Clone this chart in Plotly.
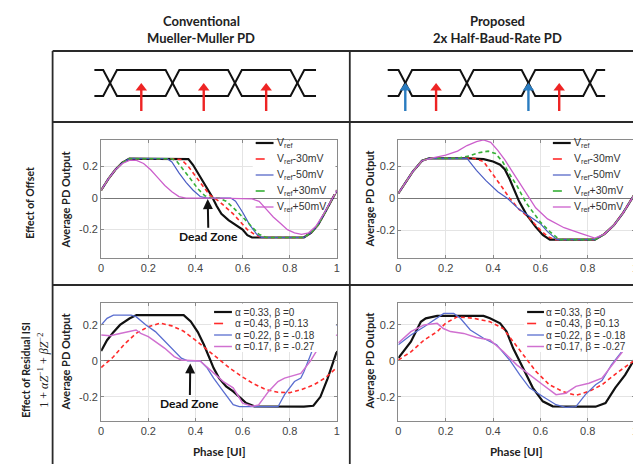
import plotly.graph_objects as go

# ================= DATA =================
phase_ticks = [0, 0.2, 0.4, 0.6, 0.8, 1]
phase_tick_text = ["0", "0.2", "0.4", "0.6", "0.8", "1"]
pd_ticks = [-0.2, 0, 0.2]
pd_tick_text = ["-0.2", "0", "0.2"]

col_headers_conv = ["Conventional", "Mueller-Muller PD"]
col_headers_prop = ["Proposed", "2x Half-Baud-Rate PD"]
row_label_offset = "Effect of Offset"
row_label_isi = "Effect of Residual ISI"
row_label_isi_eq = "1 + <i>αZ</i><sup>−1</sup> + <i>βZ</i><sup>−2</sup>"
y_title = "Average PD Output"
x_title = "Phase [UI]"
dead_zone_text = "Dead Zone"

offset_names = ["V<sub>ref</sub>", "V<sub>ref</sub>-30mV", "V<sub>ref</sub>-50mV",
                "V<sub>ref</sub>+30mV", "V<sub>ref</sub>+50mV"]
isi_names = ["α =0.33, β =0", "α =0.43, β =0.13", "α =0.22, β = -0.18", "α =0.17, β = -0.27"]

# eye diagrams (in UI)
eye_conv_cross = [0, 1, 2, 3]
eye_conv_extent = [-0.254, 3.30]
eye_conv_red = [0.5, 1.5, 2.5]
eye_prop_cross = [0, 1, 2, 3]
eye_prop_extent = [-0.29, 3.25]
eye_prop_blue = [0, 2]
eye_prop_red = [0.5, 2.5]

# --- Conventional, effect of offset ---
co_vref_x = [0, 0.03, 0.06, 0.09, 0.12, 0.2, 0.3, 0.37, 0.39, 0.41, 0.43, 0.45, 0.47, 0.49, 0.51, 0.54, 0.57, 0.6, 0.62, 0.64, 0.7, 0.8, 0.86, 0.89, 0.92, 0.95, 0.98, 1.0]
co_vref_y = [0.05, 0.12, 0.18, 0.225, 0.25, 0.25, 0.25, 0.248, 0.21, 0.16, 0.11, 0.06, 0.01, -0.05, -0.1, -0.14, -0.17, -0.2, -0.235, -0.25, -0.25, -0.25, -0.25, -0.22, -0.17, -0.09, 0.0, 0.05]
co_m30_x = [0, 0.03, 0.06, 0.09, 0.12, 0.2, 0.3, 0.34, 0.37, 0.4, 0.43, 0.46, 0.48, 0.5, 0.53, 0.56, 0.59, 0.62, 0.65, 0.68, 0.75, 0.86, 0.89, 0.92, 0.95, 0.98, 1.0]
co_m30_y = [0.05, 0.12, 0.18, 0.225, 0.25, 0.25, 0.25, 0.245, 0.2, 0.14, 0.08, 0.02, 0.0, -0.02, -0.06, -0.1, -0.15, -0.2, -0.23, -0.25, -0.25, -0.25, -0.22, -0.17, -0.09, 0.0, 0.05]
co_m50_x = [0, 0.03, 0.06, 0.09, 0.12, 0.2, 0.28, 0.3, 0.33, 0.36, 0.39, 0.42, 0.45, 0.5, 0.55, 0.57, 0.6, 0.63, 0.66, 0.68, 0.75, 0.86, 0.89, 0.92, 0.95, 0.98, 1.0]
co_m50_y = [0.05, 0.12, 0.18, 0.225, 0.25, 0.25, 0.25, 0.23, 0.16, 0.1, 0.05, 0.01, 0.0, 0.0, 0.0, -0.02, -0.09, -0.17, -0.23, -0.25, -0.25, -0.25, -0.22, -0.17, -0.09, 0.0, 0.05]
co_p30_x = [0, 0.03, 0.06, 0.09, 0.12, 0.2, 0.3, 0.32, 0.35, 0.38, 0.41, 0.44, 0.47, 0.5, 0.53, 0.56, 0.6, 0.64, 0.67, 0.7, 0.75, 0.86, 0.89, 0.92, 0.95, 0.98, 1.0]
co_p30_y = [0.05, 0.12, 0.18, 0.225, 0.25, 0.25, 0.25, 0.235, 0.18, 0.12, 0.06, 0.015, 0.0, 0.0, -0.02, -0.06, -0.12, -0.18, -0.23, -0.25, -0.25, -0.25, -0.22, -0.17, -0.09, 0.0, 0.05]
co_p50_x = [0, 0.03, 0.06, 0.09, 0.12, 0.15, 0.18, 0.21, 0.24, 0.27, 0.3, 0.33, 0.36, 0.5, 0.64, 0.67, 0.7, 0.73, 0.76, 0.79, 0.82, 0.85, 0.88, 0.91, 0.94, 0.97, 1.0]
co_p50_y = [0.05, 0.12, 0.18, 0.22, 0.24, 0.24, 0.22, 0.18, 0.13, 0.08, 0.04, 0.01, 0.0, 0.0, -0.005, -0.02, -0.07, -0.12, -0.16, -0.2, -0.22, -0.23, -0.22, -0.18, -0.11, -0.03, 0.05]

# --- Proposed, effect of offset ---
po_vref_x = [0, 0.03, 0.06, 0.1, 0.13, 0.2, 0.3, 0.36, 0.4, 0.43, 0.45, 0.47, 0.49, 0.51, 0.54, 0.58, 0.61, 0.64, 0.7, 0.83, 0.87, 0.91, 0.95, 1.0]
po_vref_y = [0.03, 0.1, 0.165, 0.235, 0.25, 0.25, 0.25, 0.245, 0.23, 0.21, 0.18, 0.12, 0.05, -0.02, -0.1, -0.18, -0.23, -0.26, -0.26, -0.26, -0.225, -0.17, -0.09, 0.03]
po_m30_x = [0, 0.03, 0.06, 0.1, 0.13, 0.2, 0.32, 0.36, 0.4, 0.44, 0.47, 0.51, 0.55, 0.6, 0.63, 0.66, 0.83, 0.87, 0.91, 0.95, 1.0]
po_m30_y = [0.03, 0.1, 0.165, 0.235, 0.25, 0.25, 0.25, 0.23, 0.15, 0.065, 0.0, -0.07, -0.12, -0.2, -0.24, -0.26, -0.26, -0.225, -0.17, -0.09, 0.03]
po_m50_x = [0, 0.03, 0.06, 0.1, 0.13, 0.2, 0.29, 0.33, 0.37, 0.42, 0.46, 0.51, 0.56, 0.6, 0.63, 0.67, 0.83, 0.87, 0.91, 0.95, 1.0]
po_m50_y = [0.03, 0.1, 0.165, 0.235, 0.25, 0.25, 0.25, 0.175, 0.11, 0.04, 0.0, -0.07, -0.12, -0.16, -0.21, -0.26, -0.26, -0.225, -0.17, -0.09, 0.03]
po_p30_x = [0, 0.03, 0.06, 0.1, 0.13, 0.2, 0.25, 0.3, 0.34, 0.38, 0.41, 0.44, 0.47, 0.5, 0.54, 0.6, 0.64, 0.68, 0.83, 0.87, 0.91, 0.95, 1.0]
po_p30_y = [0.03, 0.1, 0.165, 0.235, 0.25, 0.25, 0.25, 0.265, 0.285, 0.295, 0.28, 0.23, 0.15, 0.08, -0.03, -0.15, -0.21, -0.26, -0.26, -0.225, -0.17, -0.09, 0.03]
po_p50_x = [0, 0.03, 0.06, 0.1, 0.15, 0.2, 0.25, 0.29, 0.33, 0.36, 0.39, 0.42, 0.45, 0.48, 0.51, 0.54, 0.58, 0.63, 0.7, 0.77, 0.83, 0.87, 0.91, 0.95, 1.0]
po_p50_y = [0.03, 0.1, 0.165, 0.235, 0.255, 0.27, 0.295, 0.33, 0.355, 0.365, 0.35, 0.3, 0.24, 0.17, 0.1, 0.03, -0.06, -0.13, -0.185, -0.22, -0.25, -0.225, -0.17, -0.09, 0.03]

# --- Conventional, effect of residual ISI ---
ci_a_x = [0, 0.025, 0.052, 0.08, 0.12, 0.15, 0.25, 0.35, 0.38, 0.41, 0.436, 0.456, 0.477, 0.5, 0.53, 0.56, 0.59, 0.615, 0.65, 0.75, 0.86, 0.9, 0.93, 0.96, 0.98, 1.0]
ci_a_y = [0.055, 0.115, 0.16, 0.2, 0.236, 0.255, 0.255, 0.255, 0.22, 0.16, 0.09, 0.024, -0.04, -0.096, -0.142, -0.17, -0.207, -0.235, -0.253, -0.255, -0.255, -0.25, -0.2, -0.1, -0.02, 0.055]
ci_b_x = [0, 0.05, 0.1, 0.15, 0.2, 0.25, 0.3, 0.35, 0.4, 0.45, 0.5, 0.55, 0.6, 0.65, 0.7, 0.75, 0.8, 0.85, 0.9, 0.95, 1.0]
ci_b_y = [-0.037, 0.02, 0.095, 0.155, 0.19, 0.21, 0.195, 0.165, 0.115, 0.06, 0.01, -0.045, -0.09, -0.13, -0.16, -0.175, -0.177, -0.16, -0.135, -0.095, -0.037]
ci_c_x = [0, 0.025, 0.052, 0.127, 0.148, 0.19, 0.23, 0.27, 0.31, 0.34, 0.367, 0.42, 0.45, 0.477, 0.518, 0.56, 0.586, 0.75, 0.778, 0.82, 0.847, 0.86, 0.888, 0.915, 0.94, 0.97, 1.0]
ci_c_y = [0.2, 0.237, 0.255, 0.255, 0.246, 0.2, 0.163, 0.107, 0.052, 0.015, 0.0, 0.0, -0.04, -0.096, -0.17, -0.244, -0.255, -0.255, -0.188, -0.115, -0.096, -0.06, 0.033, 0.126, 0.18, 0.195, 0.2]
ci_d_x = [0, 0.038, 0.08, 0.12, 0.148, 0.168, 0.2, 0.23, 0.27, 0.31, 0.34, 0.42, 0.463, 0.518, 0.56, 0.6, 0.64, 0.668, 0.71, 0.75, 0.778, 0.82, 0.847, 0.888, 0.93, 0.96, 1.0]
ci_d_y = [0.144, 0.14, 0.153, 0.163, 0.172, 0.153, 0.135, 0.107, 0.07, 0.024, 0.005, 0.0, -0.05, -0.115, -0.15, -0.235, -0.253, -0.245, -0.17, -0.115, -0.096, -0.078, -0.07, 0.0, 0.09, 0.125, 0.144]

# --- Proposed, effect of residual ISI ---
pi_a_x = [0, 0.053, 0.095, 0.116, 0.164, 0.25, 0.36, 0.387, 0.43, 0.457, 0.485, 0.513, 0.54, 0.568, 0.61, 0.652, 0.75, 0.833, 0.875, 0.916, 0.958, 1.0]
pi_a_y = [0.015, 0.107, 0.218, 0.237, 0.25, 0.25, 0.25, 0.237, 0.209, 0.163, 0.07, -0.004, -0.078, -0.15, -0.225, -0.253, -0.255, -0.255, -0.235, -0.15, -0.078, 0.015]
pi_b_x = [0, 0.053, 0.109, 0.164, 0.2, 0.248, 0.318, 0.387, 0.443, 0.485, 0.526, 0.582, 0.638, 0.694, 0.75, 0.805, 0.86, 0.93, 1.0]
pi_b_y = [0.005, 0.05, 0.116, 0.163, 0.21, 0.245, 0.237, 0.218, 0.18, 0.107, 0.033, -0.06, -0.133, -0.17, -0.192, -0.17, -0.133, -0.06, 0.005]
pi_c_x = [0, 0.053, 0.109, 0.164, 0.192, 0.234, 0.262, 0.304, 0.36, 0.415, 0.47, 0.513, 0.554, 0.61, 0.666, 0.707, 0.75, 0.79, 0.833, 0.86, 0.9, 0.944, 1.0]
pi_c_y = [0.09, 0.144, 0.19, 0.237, 0.264, 0.264, 0.237, 0.172, 0.126, 0.089, 0.005, -0.078, -0.15, -0.198, -0.244, -0.259, -0.255, -0.188, -0.133, -0.11, -0.022, 0.052, 0.09]
pi_d_x = [0, 0.053, 0.109, 0.164, 0.19, 0.22, 0.276, 0.33, 0.387, 0.443, 0.5, 0.554, 0.61, 0.666, 0.707, 0.75, 0.805, 0.86, 0.916, 0.958, 1.0]
pi_d_y = [0.1, 0.163, 0.2, 0.209, 0.18, 0.163, 0.153, 0.13, 0.116, 0.052, -0.022, -0.078, -0.133, -0.188, -0.18, -0.142, -0.124, -0.096, -0.004, 0.07, 0.107]

# ================= STYLE / LAYOUT =================
W, H = 641, 464
def PX(p):
    return p / W
def PY(p):
    return 1 - p / H

offset_styles = [
    dict(color="#111111", width=2.2, dash="solid"),
    dict(color="#ff2b2b", width=1.6, dash="4px,3px"),
    dict(color="#4a5cc4", width=1.2, dash="solid"),
    dict(color="#36b036", width=1.6, dash="4px,3px"),
    dict(color="#cc5fcc", width=1.3, dash="solid"),
]
isi_styles = [
    dict(color="#111111", width=2.2, dash="solid"),
    dict(color="#ff2b2b", width=1.6, dash="4px,3px"),
    dict(color="#5a6ed0", width=1.3, dash="solid"),
    dict(color="#d070d0", width=1.5, dash="solid"),
]

TICK_FONT = dict(family="Liberation Sans, Arial", size=11, color="#444444")
BOLD_FONT = "Lato, Open Sans, sans-serif"
LEG_FONT = "Liberation Sans, Arial"

def bold(size, color="#222222"):
    return dict(family=BOLD_FONT, size=size, color=color, weight="bold")

fig = go.Figure()

panels = [
    ("x", "y", [(co_vref_x, co_vref_y), (co_m30_x, co_m30_y), (co_m50_x, co_m50_y), (co_p30_x, co_p30_y), (co_p50_x, co_p50_y)], offset_styles, offset_names),
    ("x2", "y2", [(po_vref_x, po_vref_y), (po_m30_x, po_m30_y), (po_m50_x, po_m50_y), (po_p30_x, po_p30_y), (po_p50_x, po_p50_y)], offset_styles, offset_names),
    ("x3", "y3", [(ci_a_x, ci_a_y), (ci_b_x, ci_b_y), (ci_c_x, ci_c_y), (ci_d_x, ci_d_y)], isi_styles, isi_names),
    ("x4", "y4", [(pi_a_x, pi_a_y), (pi_b_x, pi_b_y), (pi_c_x, pi_c_y), (pi_d_x, pi_d_y)], isi_styles, isi_names),
]
for xa, ya, series, styles, names in panels:
    for (sx, sy), st, nm in zip(series, styles, names):
        fig.add_trace(go.Scatter(x=sx, y=sy, mode="lines", name=nm, line=st,
                                 xaxis=xa, yaxis=ya, showlegend=False, hoverinfo="skip"))

# eye diagrams
def eye_lines(cross, x0, x1, hw):
    ax_, ay_, bx_, by_ = [x0], [1], [x0], [0]
    lvl = 1
    for c in cross:
        ax_ += [c - hw, c + hw]; ay_ += [lvl, 1 - lvl]
        bx_ += [c - hw, c + hw]; by_ += [1 - lvl, lvl]
        lvl = 1 - lvl
    ax_.append(x1); ay_.append(lvl)
    bx_.append(x1); by_.append(1 - lvl)
    return ax_, ay_, bx_, by_

for xa, ya, cross, ext in [("x5", "y5", eye_conv_cross, eye_conv_extent),
                           ("x6", "y6", eye_prop_cross, eye_prop_extent)]:
    a_x, a_y, b_x, b_y = eye_lines(cross, ext[0], ext[1], 0.11)
    for lx, ly in [(a_x, a_y), (b_x, b_y)]:
        fig.add_trace(go.Scatter(x=lx, y=ly, mode="lines", line=dict(color="#111111", width=2),
                                 xaxis=xa, yaxis=ya, showlegend=False, hoverinfo="skip"))

# sampling arrows (shaft + head) on the eye diagrams
ARROW_TAIL, ARROW_HEAD = -0.58, 0.31
for xa, ya, pts, col in [("x5", "y5", eye_conv_red, "#ee2424"), ("x6", "y6", eye_prop_blue, "#2a7cc0"),
                         ("x6", "y6", eye_prop_red, "#ee2424")]:
    for p in pts:
        fig.add_trace(go.Scatter(x=[p, p], y=[ARROW_TAIL, ARROW_HEAD], mode="lines",
                                 line=dict(color=col, width=2.4), xaxis=xa, yaxis=ya,
                                 showlegend=False, hoverinfo="skip"))
    fig.add_trace(go.Scatter(x=pts, y=[ARROW_HEAD] * len(pts), mode="markers",
                             marker=dict(symbol="triangle-up", size=10, color=col, line=dict(width=0)),
                             xaxis=xa, yaxis=ya, showlegend=False, hoverinfo="skip"))

def plot_axis(dom, rng, ticks, labels, anchor, zero=False):
    d = dict(domain=dom, range=rng, tickvals=ticks, ticktext=labels, anchor=anchor,
             showgrid=True, gridcolor="#e4e4e4", gridwidth=1,
             showline=True, linecolor="#8a8a8a", linewidth=1, mirror="ticks",
             ticks="inside", ticklen=3, tickcolor="#8a8a8a", tickfont=TICK_FONT,
             zeroline=zero, fixedrange=True)
    if zero:
        d.update(zerolinecolor="#777777", zerolinewidth=1)
    return d

def hidden_axis(dom, rng, anchor):
    return dict(domain=dom, range=rng, anchor=anchor, showticklabels=False, showgrid=False,
                zeroline=False, showline=False, ticks="", tickvals=[], fixedrange=True)

L_X = [PX(91), PX(329)]
R_X = [PX(391), PX(630)]
R2_Y = [PY(250), PY(131.5)]
R3_Y = [PY(412.7), PY(294.5)]
EYE_Y = [PY(108), PY(55)]

layout_axes = dict(
    xaxis=plot_axis(L_X, [0, 1], phase_ticks, phase_tick_text, "y"),
    yaxis=plot_axis(R2_Y, [-0.38, 0.372], pd_ticks, pd_tick_text, "x", zero=True),
    xaxis2=plot_axis(R_X, [0, 1], phase_ticks, phase_tick_text, "y2"),
    yaxis2=plot_axis(R2_Y, [-0.375, 0.368], pd_ticks, pd_tick_text, "x2", zero=True),
    xaxis3=plot_axis(L_X, [0, 1], phase_ticks, phase_tick_text, "y3"),
    yaxis3=plot_axis(R3_Y, [-0.333, 0.325], pd_ticks, pd_tick_text, "x3", zero=True),
    xaxis4=plot_axis(R_X, [0, 1], phase_ticks, phase_tick_text, "y4"),
    yaxis4=plot_axis(R3_Y, [-0.333, 0.325], pd_ticks, pd_tick_text, "x4", zero=True),
    xaxis5=hidden_axis([PX(84), PX(308)], eye_conv_extent, "y5"),
    yaxis5=hidden_axis(EYE_Y, [-0.769, 1.269], "x5"),
    xaxis6=hidden_axis([PX(380), PX(600)], eye_prop_extent, "y6"),
    yaxis6=hidden_axis(EYE_Y, [-0.769, 1.269], "x6"),
)

shapes = []
LINE_C = "#2a2a2a"
for yy in [43, 114, 277, 458]:
    shapes.append(dict(type="line", xref="paper", yref="paper", x0=PX(42), x1=1, y0=PY(yy), y1=PY(yy),
                       line=dict(color=LINE_C, width=1.8)))
for xx in [42, 342]:
    shapes.append(dict(type="line", xref="paper", yref="paper", x0=PX(xx), x1=PX(xx), y0=PY(43), y1=PY(458),
                       line=dict(color=LINE_C, width=1.8)))

annotations = []
# column headers (one annotation per line)
for cx, lines in [(192, col_headers_conv), (491, col_headers_prop)]:
    for ly, txt in zip([13, 30], lines):
        annotations.append(dict(xref="paper", yref="paper", x=PX(cx), y=PY(ly), text=txt,
                                showarrow=False, font=bold(13), xanchor="center", yanchor="middle"))
# row labels
annotations.append(dict(xref="paper", yref="paper", x=PX(19), y=PY(195), text=row_label_offset,
                        textangle=-90, showarrow=False, font=bold(10.5), xanchor="center", yanchor="middle"))
annotations.append(dict(xref="paper", yref="paper", x=PX(15), y=PY(362), text=row_label_isi,
                        textangle=-90, showarrow=False, font=bold(10.5), xanchor="center", yanchor="middle"))
annotations.append(dict(xref="paper", yref="paper", x=PX(32), y=PY(362), text=row_label_isi_eq,
                        textangle=-90, showarrow=False,
                        font=dict(family="Liberation Serif, serif", size=12, color="#222222"),
                        xanchor="center", yanchor="middle"))
# y titles
for xx, yc in [(55, 191), (361, 191), (55, 353), (361, 353)]:
    annotations.append(dict(xref="paper", yref="paper", x=PX(xx), y=PY(yc), text=y_title,
                            textangle=-90, showarrow=False, font=bold(11), xanchor="center", yanchor="middle"))
# x titles
for xc in [210, 510]:
    annotations.append(dict(xref="paper", yref="paper", x=PX(xc), y=PY(443), text=x_title,
                            showarrow=False, font=bold(11.5), xanchor="center", yanchor="middle"))
# dead zone arrows
for xa, ya, tipx, tipy, tx, ty in [("x", "y", 0.452, -0.006, 0.455, -0.245),
                                   ("x3", "y3", 0.378, -0.014, 0.376, -0.24)]:
    annotations.append(dict(xref=xa, yref=ya, axref=xa, ayref=ya, x=tipx, y=tipy, ax=tx, ay=ty,
                            text=dead_zone_text, showarrow=True, arrowhead=2, arrowsize=1,
                            arrowwidth=2, arrowcolor="#111111", standoff=0, font=bold(12, "#111111")))

# manual legends (white box + sample line + label)
legend_specs = [
    (offset_names, offset_styles, [244, 327.5], [132.5, 186], [135, 151, 167, 183, 199], [247, 265], 267, 10.5),
    (offset_names, offset_styles, [544, 629], [132.5, 186], [135, 151, 167, 183, 199], [547, 565], 567, 10.5),
    (isi_names, isi_styles, [202, 328], [295.5, 344], [304, 315.5, 327, 338.5], [205, 223], 225, 10),
    (isi_names, isi_styles, [518, 629], [295.5, 344], [304, 315.5, 327, 338.5], [521, 538], 539, 10),
]
for names, styles, bx, by, ys, lx, tx, fs in legend_specs:
    shapes.append(dict(type="rect", xref="paper", yref="paper", x0=PX(bx[0]), x1=PX(bx[1]),
                       y0=PY(by[1]), y1=PY(by[0]), fillcolor="white", line=dict(width=0), layer="above"))
    for nm, st, yy in zip(names, styles, ys):
        shapes.append(dict(type="line", xref="paper", yref="paper", x0=PX(lx[0]), x1=PX(lx[1]),
                           y0=PY(yy), y1=PY(yy), layer="above",
                           line=dict(color=st["color"], width=st["width"],
                                     dash="dash" if st["dash"] != "solid" else "solid")))
        annotations.append(dict(xref="paper", yref="paper", x=PX(tx), y=PY(yy), text=nm, showarrow=False,
                                xanchor="left", yanchor="middle", borderpad=0,
                                font=dict(family=LEG_FONT, size=fs, color="#333333")))

fig.update_layout(width=W, height=H, margin=dict(l=0, r=0, t=0, b=0),
                  paper_bgcolor="white", plot_bgcolor="white", showlegend=False,
                  shapes=shapes, annotations=annotations, **layout_axes)

fig.write_html("out.html", config={"displayModeBar": False})
